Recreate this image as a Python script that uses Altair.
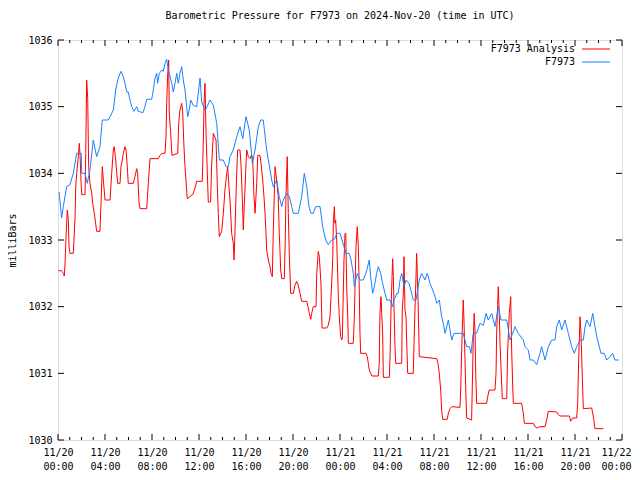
import altair as alt
import pandas as pd

TITLE = "Barometric Pressure for F7973 on 2024-Nov-20 (time in UTC)"
SERIES = ["F7973 Analysis", "F7973"]
COLORS = ["#ff0000", "#1a80ff"]
Y_TICKS = [1030, 1031, 1032, 1033, 1034, 1035, 1036]
X_MAJOR = list(range(0, 49, 4))
X_MINOR = [h for h in range(49) if h % 4]

# hours since 2024-11-20 00:00 UTC, pressure in millibars
blue = [
    (0.09, 1033.72), (0.31, 1033.33), (0.45, 1033.5), (0.74, 1033.8), (1.02, 1033.83),
    (1.30, 1034.0), (1.59, 1034.3), (1.98, 1034.3), (2.02, 1034.0), (2.30, 1034.0),
    (2.49, 1033.85), (2.72, 1034.05), (3.00, 1034.5), (3.29, 1034.25), (3.57, 1034.4),
    (3.77, 1034.8), (4.28, 1034.8), (4.43, 1034.85), (4.71, 1034.95), (4.91, 1035.25),
    (5.08, 1035.4), (5.28, 1035.5), (5.36, 1035.53), (5.56, 1035.45), (5.70, 1035.35),
    (5.85, 1035.22), (5.98, 1035.22), (6.13, 1035.1), (6.27, 1035.0), (6.47, 1034.93),
    (6.70, 1035.0), (6.83, 1034.93), (7.23, 1034.91), (7.40, 1035.0), (7.55, 1035.11),
    (7.97, 1035.11), (8.11, 1035.25), (8.26, 1035.43), (8.40, 1035.5), (8.48, 1035.35),
    (8.62, 1035.5), (8.83, 1035.55), (8.96, 1035.53), (9.11, 1035.65), (9.25, 1035.71),
    (9.34, 1035.6), (9.47, 1035.5), (9.68, 1035.35), (9.81, 1035.22), (9.96, 1035.35),
    (10.10, 1035.5), (10.24, 1035.35), (10.38, 1035.5), (10.53, 1035.6), (10.66, 1035.4),
    (10.81, 1035.25), (10.95, 1035.0), (11.04, 1034.85), (11.17, 1034.95), (11.29, 1035.1),
    (11.51, 1035.02), (11.80, 1035.0), (11.94, 1035.2), (12.09, 1035.43), (12.23, 1035.07),
    (12.51, 1034.95), (12.68, 1035.0), (12.94, 1035.1), (13.22, 1035.02), (13.51, 1034.75),
    (13.73, 1034.2), (14.07, 1034.2), (14.30, 1034.1), (14.49, 1034.1), (14.64, 1034.25),
    (14.92, 1034.35), (15.21, 1034.55), (15.49, 1034.7), (15.72, 1034.52), (16.00, 1034.85),
    (16.28, 1034.65), (16.54, 1034.15), (16.77, 1034.35), (17.05, 1034.7), (17.25, 1034.8),
    (17.47, 1034.8), (17.76, 1034.35), (18.19, 1033.9), (18.32, 1033.8), (18.61, 1033.9),
    (18.83, 1033.65), (19.04, 1033.5), (19.17, 1033.6), (19.46, 1033.7), (19.69, 1033.65),
    (19.89, 1033.5), (20.03, 1033.4), (20.45, 1033.4), (20.74, 1033.65), (20.96, 1034.0),
    (21.17, 1033.8), (21.36, 1033.5), (21.53, 1033.4), (21.73, 1033.4), (21.93, 1033.5),
    (22.30, 1033.5), (22.53, 1033.2), (22.78, 1033.0), (23.00, 1032.93), (23.29, 1033.0),
    (23.57, 1033.02), (23.72, 1033.1), (24.00, 1033.1), (24.34, 1032.9), (24.51, 1032.8),
    (24.79, 1032.8), (24.94, 1032.7), (25.13, 1032.5), (25.22, 1032.3), (25.47, 1032.5),
    (25.70, 1032.4), (25.98, 1032.4), (26.21, 1032.5), (26.49, 1032.7), (26.61, 1032.45),
    (26.78, 1032.2), (26.92, 1032.3), (27.12, 1032.5), (27.26, 1032.6), (27.46, 1032.5),
    (27.63, 1032.35), (27.83, 1032.2), (27.97, 1032.1), (28.26, 1032.1), (28.45, 1032.0),
    (28.60, 1032.1), (28.83, 1032.2), (28.96, 1032.2), (29.11, 1032.4), (29.25, 1032.5),
    (29.45, 1032.3), (29.62, 1032.4), (29.87, 1032.35), (30.10, 1032.2), (30.24, 1032.1),
    (30.47, 1032.1), (30.61, 1032.25), (30.75, 1032.4), (30.95, 1032.5), (31.23, 1032.4),
    (31.43, 1032.5), (31.66, 1032.35), (31.89, 1032.25), (32.09, 1032.15), (32.23, 1032.05),
    (32.45, 1032.1), (32.65, 1031.85), (32.79, 1031.75), (32.94, 1031.6), (33.22, 1031.8),
    (33.51, 1031.5), (33.70, 1031.6), (34.49, 1031.6), (34.78, 1031.4), (35.00, 1031.4),
    (35.15, 1031.3), (35.34, 1031.6), (35.63, 1031.6), (35.91, 1031.75), (36.20, 1031.72),
    (36.43, 1031.9), (36.62, 1031.8), (36.91, 1031.9), (37.19, 1031.7), (37.47, 1032.0),
    (37.70, 1031.8), (38.19, 1031.8), (38.47, 1031.5), (38.70, 1031.6), (38.89, 1031.7),
    (39.17, 1031.6), (39.60, 1031.5), (39.74, 1031.4), (40.03, 1031.35), (40.17, 1031.2),
    (40.45, 1031.2), (40.74, 1031.13), (41.02, 1031.3), (41.16, 1031.4), (41.45, 1031.2),
    (41.73, 1031.4), (42.02, 1031.5), (42.30, 1031.5), (42.44, 1031.7), (42.66, 1031.8),
    (42.87, 1031.65), (43.15, 1031.8), (43.43, 1031.6), (43.72, 1031.4), (43.94, 1031.3),
    (44.14, 1031.4), (44.43, 1031.5), (44.71, 1031.5), (44.85, 1031.7), (45.00, 1031.8),
    (45.28, 1031.7), (45.51, 1031.9), (45.70, 1031.7), (45.85, 1031.55), (46.07, 1031.4),
    (46.21, 1031.3), (46.49, 1031.3), (46.70, 1031.2), (46.98, 1031.25), (47.21, 1031.3),
    (47.40, 1031.2), (47.74, 1031.2),
]

red = [
    (0.03, 1032.54), (0.31, 1032.54), (0.45, 1032.5), (0.54, 1032.46), (0.60, 1032.65),
    (0.66, 1032.95), (0.79, 1033.45), (0.88, 1033.3), (0.94, 1032.9), (1.02, 1032.8),
    (1.30, 1032.8), (1.36, 1033.0), (1.45, 1033.33), (1.51, 1033.8), (1.59, 1034.0),
    (1.73, 1034.25), (1.81, 1034.45), (1.87, 1034.3), (1.96, 1033.88), (2.02, 1033.68),
    (2.30, 1033.68), (2.36, 1034.3), (2.44, 1035.4), (2.53, 1035.12), (2.61, 1034.1),
    (2.72, 1033.85), (2.87, 1033.7), (2.95, 1033.55), (3.09, 1033.4), (3.17, 1033.3),
    (3.29, 1033.13), (3.57, 1033.13), (3.66, 1033.55), (3.77, 1034.1), (3.86, 1033.9),
    (4.00, 1033.6), (4.43, 1033.6), (4.57, 1034.0), (4.71, 1034.35), (4.79, 1034.4),
    (4.91, 1034.2), (5.00, 1034.0), (5.08, 1033.85), (5.28, 1033.85), (5.36, 1034.1),
    (5.47, 1034.2), (5.56, 1034.3), (5.70, 1034.4), (5.79, 1034.35), (5.90, 1034.1),
    (5.98, 1033.85), (6.41, 1033.85), (6.55, 1033.95), (6.70, 1034.07), (6.78, 1034.0),
    (6.89, 1033.57), (6.98, 1033.47), (7.55, 1033.47), (7.69, 1033.85), (7.77, 1034.07),
    (7.83, 1034.22), (8.54, 1034.22), (8.68, 1034.27), (8.83, 1034.3), (9.11, 1034.3),
    (9.19, 1034.55), (9.25, 1035.05), (9.34, 1035.5), (9.42, 1035.7), (9.47, 1034.9),
    (9.59, 1034.6), (9.70, 1034.27), (10.19, 1034.3), (10.27, 1034.75), (10.38, 1034.95),
    (10.53, 1035.05), (10.61, 1034.93), (10.72, 1034.4), (10.81, 1034.1), (10.89, 1033.9),
    (11.00, 1033.62), (11.23, 1033.65), (11.46, 1033.68), (11.66, 1033.78), (11.80, 1033.88),
    (12.28, 1033.88), (12.37, 1034.5), (12.43, 1035.07), (12.51, 1035.35), (12.60, 1034.6),
    (12.71, 1034.0), (12.79, 1033.57), (12.99, 1033.57), (13.07, 1034.1), (13.22, 1034.6),
    (13.45, 1034.5), (13.56, 1033.8), (13.64, 1033.4), (13.73, 1033.05), (13.93, 1033.13),
    (14.07, 1033.4), (14.21, 1033.75), (14.36, 1034.0), (14.44, 1034.1), (14.55, 1033.8),
    (14.64, 1033.6), (14.78, 1033.1), (14.92, 1032.95), (14.98, 1032.7), (15.04, 1033.0),
    (15.12, 1033.5), (15.21, 1034.0), (15.29, 1034.35), (15.49, 1034.35), (15.57, 1034.15),
    (15.66, 1033.75), (15.77, 1033.15), (15.86, 1033.55), (15.97, 1034.0), (16.06, 1034.35),
    (16.20, 1034.25), (16.34, 1034.22), (16.48, 1034.28), (16.57, 1034.22), (16.68, 1033.65),
    (16.77, 1033.4), (16.91, 1033.85), (17.00, 1034.27), (17.19, 1034.27), (17.28, 1034.15),
    (17.42, 1033.9), (17.53, 1033.65), (17.62, 1033.4), (17.70, 1033.1), (17.76, 1032.85),
    (17.90, 1032.7), (18.04, 1032.6), (18.13, 1032.5), (18.24, 1032.45), (18.32, 1033.1),
    (18.41, 1033.7), (18.47, 1034.1), (18.61, 1033.9), (18.74, 1033.65), (18.83, 1033.1),
    (18.89, 1032.85), (18.95, 1032.55), (19.04, 1032.42), (19.26, 1032.42), (19.34, 1033.0),
    (19.40, 1033.65), (19.51, 1034.25), (19.60, 1033.4), (19.69, 1032.75), (19.74, 1032.52),
    (19.80, 1032.2), (20.03, 1032.2), (20.17, 1032.32), (20.31, 1032.38), (20.45, 1032.32),
    (20.60, 1032.2), (20.74, 1032.08), (21.17, 1032.08), (21.28, 1032.0), (21.39, 1031.9),
    (21.51, 1031.81), (21.59, 1031.9), (21.73, 1032.0), (21.96, 1032.0), (22.02, 1032.5),
    (22.15, 1032.83), (22.24, 1032.75), (22.38, 1032.35), (22.47, 1031.68), (22.87, 1031.68),
    (23.00, 1031.72), (23.15, 1031.85), (23.29, 1032.35), (23.38, 1032.7), (23.43, 1033.25),
    (23.52, 1033.5), (23.57, 1033.25), (23.63, 1033.3), (23.72, 1033.0), (23.86, 1032.15),
    (23.94, 1031.85), (24.06, 1031.55), (24.14, 1031.5), (24.20, 1031.52), (24.23, 1031.8),
    (24.34, 1032.7), (24.43, 1033.1), (24.49, 1033.1), (24.57, 1032.3), (24.66, 1031.85),
    (24.71, 1031.45), (25.13, 1031.45), (25.22, 1031.85), (25.36, 1032.9), (25.47, 1033.2),
    (25.56, 1032.9), (25.64, 1032.25), (25.70, 1031.6), (25.76, 1031.3), (26.21, 1031.3),
    (26.32, 1031.25), (26.41, 1031.15), (26.49, 1031.05), (26.61, 1031.0), (26.70, 1030.96),
    (27.26, 1030.96), (27.34, 1031.15), (27.40, 1031.9), (27.49, 1032.15), (27.55, 1031.9),
    (27.63, 1031.6), (27.69, 1030.94), (28.20, 1030.94), (28.26, 1031.25), (28.34, 1031.95),
    (28.43, 1032.45), (28.48, 1032.72), (28.54, 1032.45), (28.60, 1031.95), (28.68, 1031.4),
    (28.74, 1031.15), (29.25, 1031.15), (29.30, 1031.95), (29.39, 1032.2), (29.45, 1032.75),
    (29.53, 1031.95), (29.62, 1031.85), (29.68, 1031.45), (29.76, 1031.0), (30.24, 1031.0),
    (30.30, 1031.45), (30.38, 1031.95), (30.47, 1032.45), (30.52, 1032.8), (30.58, 1032.5),
    (30.66, 1031.95), (30.75, 1031.25), (32.23, 1031.22), (32.34, 1031.15), (32.45, 1031.0),
    (32.57, 1030.75), (32.65, 1030.45), (32.74, 1030.31), (33.13, 1030.31), (33.22, 1030.4),
    (33.36, 1030.47), (33.51, 1030.5), (34.21, 1030.49), (34.27, 1030.75), (34.36, 1031.35),
    (34.44, 1031.85), (34.49, 1032.1), (34.55, 1031.8), (34.64, 1031.2), (34.72, 1030.65),
    (34.78, 1030.33), (35.20, 1030.3), (35.26, 1030.8), (35.34, 1031.5), (35.42, 1031.9),
    (35.49, 1031.65), (35.55, 1031.0), (35.63, 1030.55), (36.48, 1030.55), (36.57, 1030.65),
    (36.70, 1030.75), (37.19, 1030.75), (37.28, 1031.0), (37.33, 1031.6), (37.42, 1032.02),
    (37.47, 1032.3), (37.56, 1031.85), (37.62, 1031.45), (37.70, 1031.1), (37.81, 1030.62),
    (38.19, 1030.62), (38.27, 1031.35), (38.41, 1031.9), (38.53, 1032.15), (38.61, 1031.35),
    (38.70, 1030.8), (38.75, 1030.55), (39.46, 1030.55), (39.60, 1030.4), (39.69, 1030.25),
    (40.45, 1030.25), (40.60, 1030.2), (40.74, 1030.18), (41.02, 1030.2), (41.45, 1030.2),
    (41.59, 1030.3), (41.73, 1030.43), (42.44, 1030.42), (42.58, 1030.38), (42.72, 1030.36),
    (43.52, 1030.36), (43.63, 1030.28), (43.80, 1030.33), (44.14, 1030.33), (44.23, 1030.55),
    (44.31, 1031.2), (44.43, 1031.85), (44.51, 1031.6), (44.62, 1030.95), (44.71, 1030.47),
    (45.42, 1030.48), (45.56, 1030.35), (45.70, 1030.17), (46.41, 1030.17),
]

W, H = 564, 400
FONT = "DejaVu Sans Mono"

df_red = pd.DataFrame(red, columns=["hour", "mbar"])
df_blue = pd.DataFrame(blue, columns=["hour", "mbar"])
df_xmaj = pd.DataFrame({"hour": X_MAJOR})
df_xmin = pd.DataFrame({"hour": X_MINOR})
df_y = pd.DataFrame({"mbar": Y_TICKS})

xs = alt.Scale(domain=[0, 48], nice=False, zero=False)
ys = alt.Scale(domain=[1030, 1036], nice=False, zero=False)

x_axis = alt.Axis(
    values=X_MAJOR, ticks=False, domain=False, grid=False, title=None,
    labelExpr="['11/' + (20 + floor(datum.value / 24)), ((datum.value % 24) < 10 ? '0' : '') + (datum.value % 24) + ':00']",
    labelFont=FONT, labelFontSize=10, labelColor="black", labelPadding=7,
    labelLineHeight=14, labelFlush=False, labelOverlap=False,
    labelOffset={"condition": {"test": "datum.value == 48", "value": -6}, "value": 0},
)
y_axis = alt.Axis(
    values=Y_TICKS, ticks=False, domain=False, grid=False, title="milliBars",
    labelFont=FONT, labelFontSize=10, labelColor="black", labelPadding=6,
    titleFont=FONT, titleFontSize=10, titleFontWeight="normal", titleColor="black",
    titlePadding=10, format="d",
)

X = alt.X("hour:Q", scale=xs, axis=x_axis)
Y = alt.Y("mbar:Q", scale=ys, axis=y_axis)

red_line = alt.Chart(df_red).mark_line(color=COLORS[0], strokeWidth=1).encode(x=X, y=Y)
blue_line = alt.Chart(df_blue).mark_line(color=COLORS[1], strokeWidth=1).encode(x=X, y=Y)

def xticks(df, length):
    bottom = alt.Chart(df).mark_rule(color="black", strokeWidth=1).encode(
        x=X, y=alt.value(H), y2=alt.value(H - length))
    top = alt.Chart(df).mark_rule(color="black", strokeWidth=1).encode(
        x=X, y=alt.value(0), y2=alt.value(length))
    return [bottom, top]

yt_left = alt.Chart(df_y).mark_rule(color="black", strokeWidth=1).encode(
    y=Y, x=alt.value(0), x2=alt.value(6))
yt_right = alt.Chart(df_y).mark_rule(color="black", strokeWidth=1).encode(
    y=Y, x=alt.value(W - 6), x2=alt.value(W))

legend_layers = []
for i, (name, col) in enumerate(zip(SERIES, COLORS)):
    d = pd.DataFrame({"name": [name]})
    yy = 9 + 13 * i
    legend_layers.append(alt.Chart(d).mark_text(
        align="right", baseline="middle", font=FONT, fontSize=10, color="black"
    ).encode(text="name:N", x=alt.value(517), y=alt.value(yy)))
    legend_layers.append(alt.Chart(d).mark_rule(color=col, strokeWidth=1).encode(
        x=alt.value(524), x2=alt.value(552), y=alt.value(yy)))

layers = [red_line, blue_line] + xticks(df_xmaj, 6) + xticks(df_xmin, 3) + [yt_left, yt_right] + legend_layers

chart = alt.layer(*layers).properties(
    width=W, height=H,
    title=alt.Title(TITLE, font=FONT, fontSize=10, fontWeight="normal",
                    anchor="middle", offset=14, color="black"),
    padding={"left": 50, "top": 32, "right": 10, "bottom": 32},
    autosize="none",
).configure_view(stroke="black", strokeWidth=1).configure(background="white")

chart.save("out.html", embed_options={"renderer": "svg", "actions": False})
